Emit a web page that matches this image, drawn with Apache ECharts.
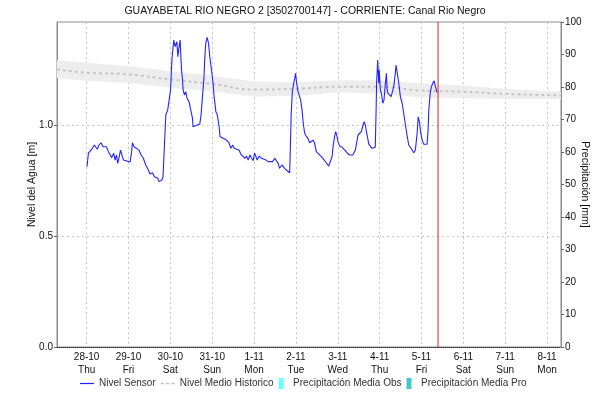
<!DOCTYPE html>
<html>
<head>
<meta charset="utf-8">
<script src="https://cdn.jsdelivr.net/npm/echarts@6/dist/echarts.min.js"></script>
<style>
  html, body { margin: 0; padding: 0; background: #fff; }
  #chart { width: 610px; height: 400px; }
</style>
</head>
<body>
<div id="chart"></div>
<script>
// Station and axis text
const chartTitle = 'GUAYABETAL RIO NEGRO 2 [3502700147] - CORRIENTE: Canal Rio Negro';
const levelAxisName = 'Nivel del Agua [m]';
const rainAxisName = 'Precipitación [mm]';
const dayNames = ['Sun', 'Mon', 'Tue', 'Wed', 'Thu', 'Fri', 'Sat'];

// All times are hours counted from 28-10-2021 00:00
const axisStartHour = -17;
const axisEndHour = 272;
const nowHour = 201.5;
const levelMax = 1.464;

// Sensor water level [m]
const sensorHours = [0.2,1.0,1.9,3.3,4.4,5.2,6.1,7.1,8.2,9.4,10.2,11.3,12.5,13.4,14.4,15.5,16.3,17.1,17.8,18.5,19.4,20.1,21.1,22.0,
  24.9,25.8,26.2,27.4,28.7,30.0,31.2,32.5,33.9,35.4,36.3,37.7,38.9,40.0,40.8,41.5,43.1,43.8,44.6,45.4,46.5,47.3,48.1,48.8,49.2,50.0,50.7,51.7,52.3,53.0,53.6,54.4,
  55.0,55.3,56.1,56.8,57.6,58.7,59.7,60.7,61.0,62.0,64.9,65.6,66.4,67.2,67.8,68.3,69.1,69.9,70.6,71.6,72.5,73.1,74.1,74.8,76.0,76.5,78.3,80.2,81.7,82.7,83.7,84.6,
  86.0,87.4,88.4,89.4,90.7,91.7,92.6,93.6,94.6,95.5,96.3,97.0,97.8,98.9,100.3,101.2,102.8,104.1,105.1,106.6,107.9,108.9,109.8,110.6,112.0,113.5,115.0,116.4,
  116.7,117.3,117.9,118.7,119.3,119.8,120.4,121.2,121.7,122.7,123.5,124.2,125.0,125.9,126.9,127.9,128.8,129.8,130.7,131.7,133.6,135.5,137.4,138.8,139.9,140.7,
  141.3,142.2,142.8,143.4,144.1,145.1,146.4,148.0,149.5,150.8,152.7,154.1,155.6,156.6,157.5,158.5,159.1,159.8,160.6,161.8,162.7,163.6,164.6,165.5,165.9,166.3,
  166.9,167.5,167.8,168.4,169.0,169.8,170.5,171.3,171.9,172.3,172.8,173.6,174.6,175.3,176.1,177.0,177.4,178.2,179.0,179.9,180.9,181.8,182.8,183.7,184.7,185.6,
  186.6,187.6,188.5,189.5,190.1,190.8,191.6,192.4,193.3,195.2,195.8,196.2,197.0,197.7,198.5,199.2,200.0,201.0];
const sensorLevel = [0.812,0.873,0.880,0.895,0.910,0.918,0.891,0.910,0.920,0.902,0.895,0.902,0.880,0.887,0.853,0.873,0.842,0.865,0.827,0.850,0.887,0.880,0.842,0.835,
  0.833,0.880,0.920,0.900,0.895,0.887,0.865,0.850,0.820,0.797,0.779,0.785,0.767,0.775,0.760,0.745,0.752,0.767,0.910,1.045,1.068,1.113,1.158,1.279,1.324,1.383,1.353,1.375,1.308,1.353,1.383,1.248,
  1.203,1.158,1.135,1.150,1.120,1.105,1.068,1.030,0.992,1.000,1.005,1.045,1.128,1.203,1.308,1.368,1.395,1.368,1.308,1.248,1.188,1.128,1.060,1.050,0.992,0.947,0.940,0.932,0.918,0.895,0.910,0.895,
  0.891,0.887,0.869,0.873,0.850,0.860,0.842,0.865,0.850,0.839,0.873,0.860,0.842,0.860,0.850,0.855,0.842,0.835,0.827,0.835,0.850,0.842,0.827,0.805,0.820,0.805,0.794,0.785,
  0.865,1.053,1.143,1.188,1.210,1.233,1.188,1.150,1.143,1.113,1.068,1.008,0.963,0.950,0.940,0.920,0.925,0.932,0.918,0.880,0.865,0.850,0.830,0.815,0.820,0.857,
  0.902,0.950,0.970,0.955,0.925,0.905,0.900,0.887,0.873,0.865,0.865,0.887,0.955,0.959,0.970,1.000,1.015,1.000,0.963,0.914,0.910,0.895,0.900,0.900,1.037,1.195,
  1.293,1.188,1.248,1.158,1.143,1.098,1.113,1.188,1.233,1.158,1.143,1.135,1.128,1.120,1.173,1.233,1.270,1.270,1.188,1.128,1.098,1.053,1.000,0.955,0.910,0.900,
  0.891,0.875,0.887,0.963,1.037,1.015,0.963,0.932,0.913,0.913,0.977,1.068,1.143,1.173,1.188,1.200,1.173,1.146];

// Historical mean level [m] with its spread
const meanHours = [-17, 0, 24, 48, 72, 96, 120, 144, 168, 192, 216, 240, 264, 272];
const meanLevel = [1.250, 1.236, 1.228, 1.205, 1.185, 1.160, 1.163, 1.172, 1.172, 1.155, 1.150, 1.140, 1.135, 1.133];
const meanLow   = [1.212, 1.198, 1.190, 1.168, 1.152, 1.128, 1.132, 1.146, 1.142, 1.124, 1.122, 1.117, 1.117, 1.116];
const meanHigh  = [1.292, 1.280, 1.266, 1.242, 1.222, 1.196, 1.193, 1.202, 1.202, 1.186, 1.178, 1.163, 1.153, 1.150];

// Precipitation [mm] (no records in this window)
const precipObs = [];
const precipPro = [];

const t0 = Date.UTC(2021, 9, 28);
const toTime = h => t0 + h * 3600000;
const pairs = (hs, vs) => hs.map((h, i) => [toTime(h), vs[i]]);

const font = "'Liberation Sans', Arial, sans-serif";
const lineIcon = 'path://M0,5h14v1.2h-14z';
const dashIcon = 'path://M0,5h3v1.6h-3zM5,5h3v1.6h-3zM10,5h3v1.6h-3z';
const barIcon = 'path://M0,0h5v11h-5z';

const chart = echarts.init(document.getElementById('chart'), null, { renderer: 'canvas' });

chart.setOption({
  useUTC: true,
  animation: false,
  backgroundColor: '#fff',
  textStyle: { fontFamily: font },
  title: {
    text: chartTitle,
    left: 'center',
    top: 6,
    padding: 0,
    textStyle: { fontSize: 10.5, fontWeight: 'normal', color: '#111', fontFamily: font }
  },
  grid: {
    left: 57, right: 49, top: 22, bottom: 53,
    show: true, borderColor: '#8c8c8c', borderWidth: 1, backgroundColor: 'transparent'
  },
  legend: {
    bottom: 6,
    left: 75,
    itemGap: 5,
    itemWidth: 14,
    itemHeight: 11,
    textStyle: { fontSize: 10, color: '#333', fontFamily: font },
    data: [
      { name: 'Nivel Sensor', icon: lineIcon, itemStyle: { color: '#1f1fff' } },
      { name: 'Nivel Medio Historico', icon: dashIcon, itemStyle: { color: '#c4c4c4' } },
      { name: 'Precipitación Media Obs', icon: barIcon, itemStyle: { color: '#66ffff' } },
      { name: 'Precipitación Media Pro', icon: barIcon, itemStyle: { color: '#40c8c8' } }
    ]
  },
  xAxis: {
    type: 'time',
    min: toTime(axisStartHour),
    max: toTime(axisEndHour),
    minInterval: 86400000,
    maxInterval: 86400000,
    axisLine: { lineStyle: { color: '#333', type: [1, 1], width: 1 } },
    axisTick: { show: false },
    splitLine: { show: true, lineStyle: { color: '#c8c8c8', type: [2, 3], width: 1 } },
    axisLabel: {
      showMinLabel: false,
      showMaxLabel: false,
      color: '#111',
      fontSize: 10,
      lineHeight: 13,
      margin: 4,
      formatter: function (v) {
        const d = new Date(v);
        return d.getUTCDate() + '-' + (d.getUTCMonth() + 1) + '\n' + dayNames[d.getUTCDay()];
      }
    }
  },
  yAxis: [
    {
      type: 'value',
      min: 0,
      max: levelMax,
      interval: 0.5,
      name: levelAxisName,
      nameLocation: 'middle',
      nameGap: 19,
      nameMoveOverlap: false,
      nameTextStyle: { fontSize: 10.5, color: '#111', fontFamily: font },
      axisLine: { show: true, lineStyle: { color: '#8c8c8c' } },
      axisTick: { show: true, length: 3, lineStyle: { color: '#666' } },
      splitLine: { show: true, lineStyle: { color: '#c8c8c8', type: [2, 3] } },
      axisLabel: {
        showMaxLabel: false,
        color: '#111', fontSize: 10, margin: 4,
        formatter: v => v.toFixed(1)
      }
    },
    {
      type: 'value',
      position: 'right',
      min: 0,
      max: 100,
      interval: 10,
      name: rainAxisName,
      nameLocation: 'middle',
      nameRotate: -90,
      nameGap: 18,
      nameMoveOverlap: false,
      nameTextStyle: { fontSize: 10.5, color: '#111', fontFamily: font },
      axisLine: { show: true, lineStyle: { color: '#8c8c8c' } },
      axisTick: { show: true, length: 3, lineStyle: { color: '#666' } },
      splitLine: { show: false },
      axisLabel: { color: '#111', fontSize: 10, margin: 4 }
    }
  ],
  series: [
    {
      name: 'bandBase',
      type: 'line',
      stack: 'meanBand',
      symbol: 'none',
      silent: true,
      lineStyle: { opacity: 0 },
      data: pairs(meanHours, meanLow),
      z: 1
    },
    {
      name: 'bandSpread',
      type: 'line',
      stack: 'meanBand',
      symbol: 'none',
      silent: true,
      lineStyle: { opacity: 0 },
      areaStyle: { color: '#ededed', opacity: 1 },
      data: pairs(meanHours, meanHigh.map((h, i) => +(h - meanLow[i]).toFixed(3))),
      z: 1
    },
    {
      name: 'Nivel Medio Historico',
      type: 'line',
      symbol: 'none',
      smooth: true,
      color: '#c4c4c4',
      lineStyle: { color: '#c6c6c6', width: 2, type: [3, 3] },
      data: pairs(meanHours, meanLevel),
      z: 2
    },
    {
      name: 'Nivel Sensor',
      type: 'line',
      symbol: 'none',
      color: '#1f1fff',
      lineStyle: { color: '#2424ff', width: 1.1 },
      data: pairs(sensorHours, sensorLevel),
      z: 3
    },
    {
      name: 'now',
      type: 'line',
      symbol: 'none',
      silent: true,
      color: '#e02020',
      lineStyle: { color: '#e02020', width: 1 },
      data: [[toTime(nowHour), 0], [toTime(nowHour), levelMax]],
      z: 4
    },
    {
      name: 'Precipitación Media Obs',
      type: 'line',
      yAxisIndex: 1,
      symbol: 'none',
      color: '#66ffff',
      data: precipObs
    },
    {
      name: 'Precipitación Media Pro',
      type: 'line',
      yAxisIndex: 1,
      symbol: 'none',
      color: '#40c8c8',
      data: precipPro
    }
  ]
});
</script>
</body>
</html>
